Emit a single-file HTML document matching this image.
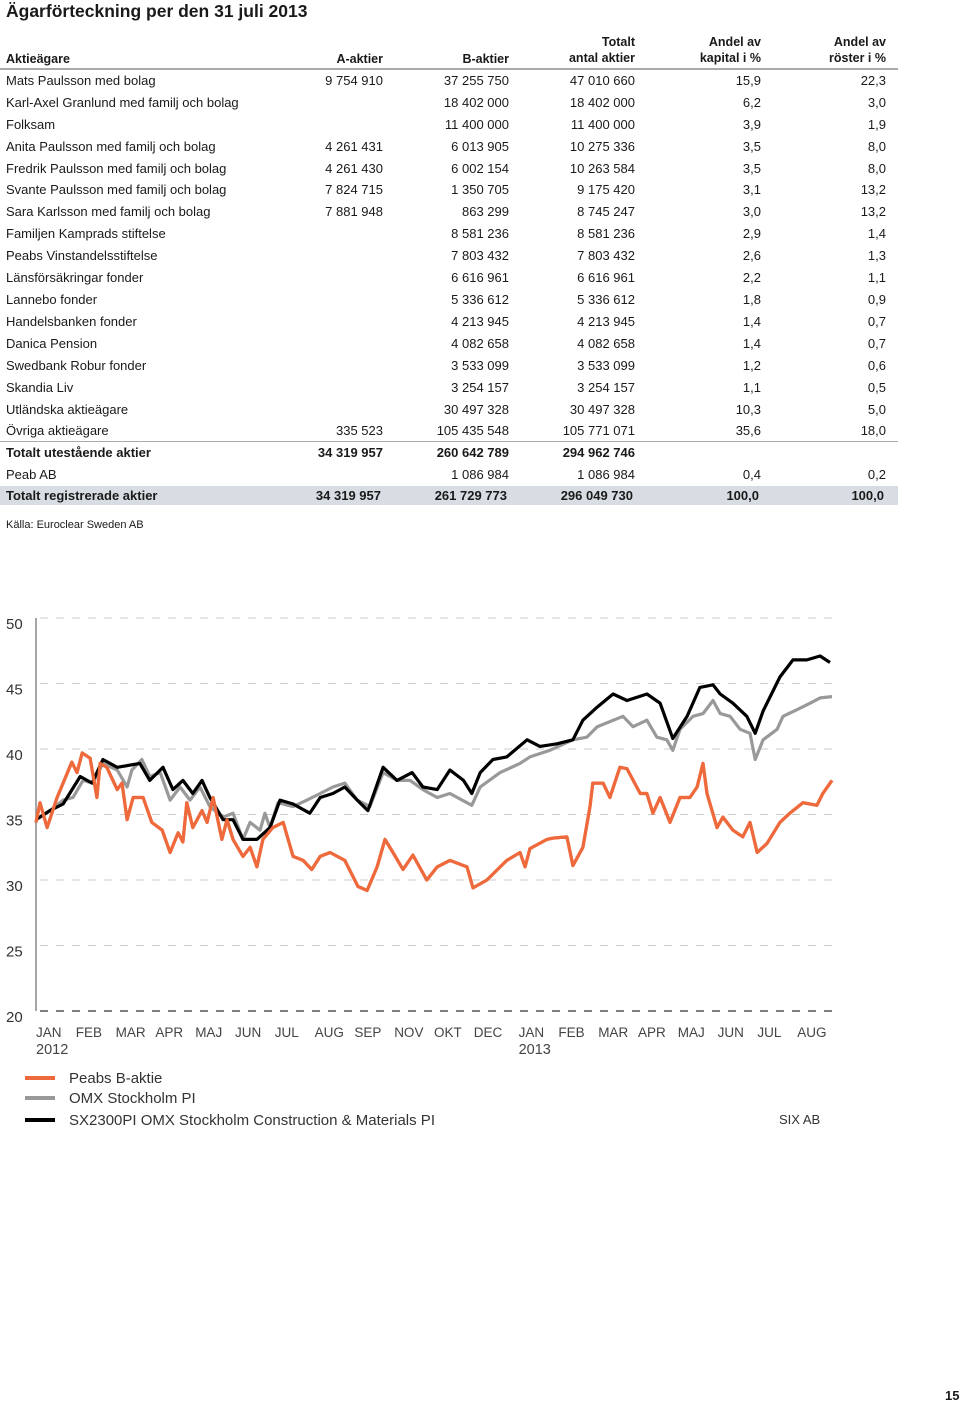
<!DOCTYPE html>
<html><head><meta charset="utf-8"><style>
body{margin:0;width:960px;height:1404px;background:#fff;font-family:"Liberation Sans",sans-serif;color:#1a1a1a;position:relative;overflow:hidden}
.a{position:absolute;white-space:nowrap}
.r{position:absolute;left:0;width:900px;height:22px;font-size:13px;line-height:22px}
.r span{position:absolute}
.c0{left:6px}.c1{right:517px}.c2{right:391px}.c3{right:265px}.c4{right:139px}.c5{right:14px}
.b{font-weight:bold}
</style></head><body>
<div class="a" style="left:6px;top:1px;font-size:17.5px;font-weight:bold">Ägarförteckning per den 31 juli 2013</div>
<div>
<div class="r b" style="top:34px;height:34px;line-height:16px;font-size:12.5px">
<span class="c0" style="top:17px">Aktieägare</span><span class="c1" style="top:17px">A-aktier</span><span class="c2" style="top:17px">B-aktier</span>
<span class="c3" style="text-align:right">Totalt<br>antal aktier</span><span class="c4" style="text-align:right">Andel av<br>kapital i %</span><span class="c5" style="text-align:right">Andel av<br>röster i %</span></div>
<div class="a" style="left:0;top:68px;width:898px;height:2px;background:#aaa"></div>
<div id="rows"></div>
<div class="a" style="left:0;top:441px;width:898px;height:1px;background:#aaa"></div>
</div>
<div class="a" style="left:6px;top:519px;font-size:11px">Källa: Euroclear Sweden AB</div>
<svg id="chart" class="a" style="left:0;top:600px" width="960" height="540"></svg>
<div class="a" style="left:779px;top:1112px;font-size:13px;color:#333">SIX AB</div>
<div class="a" style="left:945px;top:1388px;font-size:13px;font-weight:bold">15</div>
<script>
const rowData=[
["Mats Paulsson med bolag","9 754 910","37 255 750","47 010 660","15,9","22,3"],
["Karl-Axel Granlund med familj och bolag","","18 402 000","18 402 000","6,2","3,0"],
["Folksam","","11 400 000","11 400 000","3,9","1,9"],
["Anita Paulsson med familj och bolag","4 261 431","6 013 905","10 275 336","3,5","8,0"],
["Fredrik Paulsson med familj och bolag","4 261 430","6 002 154","10 263 584","3,5","8,0"],
["Svante Paulsson med familj och bolag","7 824 715","1 350 705","9 175 420","3,1","13,2"],
["Sara Karlsson med familj och bolag","7 881 948","863 299","8 745 247","3,0","13,2"],
["Familjen Kamprads stiftelse","","8 581 236","8 581 236","2,9","1,4"],
["Peabs Vinstandelsstiftelse","","7 803 432","7 803 432","2,6","1,3"],
["Länsförsäkringar fonder","","6 616 961","6 616 961","2,2","1,1"],
["Lannebo fonder","","5 336 612","5 336 612","1,8","0,9"],
["Handelsbanken fonder","","4 213 945","4 213 945","1,4","0,7"],
["Danica Pension","","4 082 658","4 082 658","1,4","0,7"],
["Swedbank Robur fonder","","3 533 099","3 533 099","1,2","0,6"],
["Skandia Liv","","3 254 157","3 254 157","1,1","0,5"],
["Utländska aktieägare","","30 497 328","30 497 328","10,3","5,0"],
["Övriga aktieägare","335 523","105 435 548","105 771 071","35,6","18,0"],
["Totalt utestående aktier","34 319 957","260 642 789","294 962 746","",""],
["Peab AB","","1 086 984","1 086 984","0,4","0,2"],
["Totalt registrerade aktier","34 319 957","261 729 773","296 049 730","100,0","100,0"]];
const rc=document.getElementById('rows');
const tops=[70,92,114,136,158,179,201,223,245,267,289,311,333,355,377,399,420,442,464,486];
rowData.forEach((r,i)=>{const d=document.createElement('div');d.className='r'+(i==17||i==19?' b':'');


d.style.top=tops[i]+'px';if(i==19){d.style.background='#d8dde3';d.style.width='898px';d.style.height='19px';d.style.lineHeight='19px';}
r.forEach((t,j)=>{const s=document.createElement('span');s.className='c'+j;s.textContent=t;d.appendChild(s);});rc.appendChild(d);});

const monthLabels=["JAN","FEB","MAR","APR","MAJ","JUN","JUL","AUG","SEP","NOV","OKT","DEC","JAN","FEB","MAR","APR","MAJ","JUN","JUL","AUG"];
const yTicks=[20,25,30,35,40,45,50];
const peabT=[0,0.1,0.28,0.53,0.68,0.9,1.03,1.16,1.36,1.53,1.61,1.78,2.04,2.16,2.29,2.44,2.69,2.91,3.17,3.37,3.57,3.69,3.79,3.94,4.17,4.3,4.45,4.67,4.8,4.95,5.2,5.38,5.55,5.7,5.95,6.21,6.46,6.71,6.93,7.14,7.39,7.76,8.09,8.32,8.57,8.77,8.97,9.22,9.47,9.82,10.08,10.4,10.83,10.98,11.33,11.83,12.16,12.29,12.41,12.84,12.99,13.34,13.49,13.74,13.92,13.99,14.25,14.42,14.67,14.85,15.18,15.35,15.5,15.68,15.93,16.18,16.43,16.61,16.76,16.86,17.11,17.26,17.51,17.76,17.94,18.12,18.37,18.69,18.94,19.27,19.62,19.77,20];
const peabV=[34.4,35.9,34.0,36.3,37.4,39.0,38.2,39.7,39.3,36.3,38.9,38.6,36.9,37.4,34.6,36.3,36.3,34.4,33.8,32.1,33.6,32.9,35.9,34.0,35.3,34.4,36.3,33.1,34.6,33.1,31.8,32.5,31.0,33.1,34.0,34.4,31.8,31.5,30.8,31.8,32.1,31.5,29.5,29.2,31.0,33.1,32.1,30.8,31.9,30.0,31.0,31.5,31.0,29.4,30.0,31.5,32.1,31.0,32.4,33.1,33.2,33.3,31.1,32.5,35.6,37.4,37.4,36.3,38.6,38.5,36.6,36.6,35.1,36.3,34.4,36.3,36.3,37.1,38.9,36.6,34.0,34.8,33.8,33.3,34.4,32.1,32.8,34.4,35.1,35.9,35.7,36.6,37.6];
const omxT=[0,0.35,0.68,0.93,1.18,1.43,1.68,2.04,2.29,2.41,2.66,2.86,3.12,3.37,3.62,3.87,4.12,4.37,4.7,4.95,5.2,5.38,5.63,5.75,5.88,6.08,6.46,6.81,7.14,7.46,7.76,8.07,8.39,8.72,9.07,9.4,9.72,10.08,10.4,10.95,11.16,11.66,12.16,12.41,12.91,13.49,13.84,14.1,14.35,14.75,15.0,15.35,15.6,15.85,16.0,16.18,16.51,16.76,17.01,17.19,17.44,17.69,17.94,18.07,18.27,18.62,18.77,19.12,19.45,19.7,20];
const omxV=[34.6,35.3,36.1,36.3,37.6,37.4,38.9,38.4,37.1,38.4,39.2,37.9,38.2,36.1,37.1,36.1,37.1,35.6,34.8,35.1,33.1,34.4,33.8,35.1,34.0,35.9,35.6,36.1,36.6,37.1,37.4,36.1,35.6,38.2,37.6,37.6,36.9,36.3,36.6,35.7,37.1,38.2,38.9,39.4,39.9,40.7,40.9,41.7,42.0,42.5,41.7,42.2,40.9,40.7,39.9,41.5,42.5,42.7,43.7,42.7,42.5,41.5,41.2,39.2,40.7,41.5,42.5,43.0,43.5,43.9,44.0];
const sxT=[0,0.35,0.68,1.11,1.41,1.68,2.04,2.61,2.86,3.19,3.44,3.69,3.94,4.17,4.37,4.7,4.95,5.2,5.55,5.88,6.13,6.46,6.88,7.14,7.46,7.76,8.07,8.34,8.72,9.07,9.45,9.72,10.08,10.4,10.74,10.95,11.16,11.48,11.83,12.34,12.66,13.09,13.49,13.74,14.1,14.5,14.85,15.35,15.68,16.0,16.36,16.68,17.01,17.19,17.51,17.86,18.07,18.27,18.69,19.02,19.37,19.7,19.95];
const sxV=[34.6,35.3,35.8,37.9,37.4,39.2,38.6,38.9,37.6,38.6,36.9,37.6,36.6,37.6,36.3,34.6,34.6,33.1,33.1,34.0,36.1,35.8,35.1,36.3,36.6,37.1,36.1,35.3,38.6,37.6,38.2,37.1,36.9,38.4,37.6,36.6,38.2,39.2,39.4,40.7,40.2,40.4,40.7,42.2,43.2,44.2,43.7,44.2,43.5,40.8,42.5,44.7,44.9,44.2,43.5,42.5,41.2,42.9,45.5,46.8,46.8,47.1,46.6];
const legendLabels=["Peabs B-aktie","OMX Stockholm PI","SX2300PI OMX Stockholm Construction & Materials PI"];

const svg=document.getElementById('chart');const NS='http://www.w3.org/2000/svg';
const X=t=>36+t*39.8, Y=v=>149-(v-40)*13.1;
function el(tag,attrs,name){const e=document.createElementNS(NS,tag);for(const k in attrs)e.setAttribute(k,attrs[k]);


svg.appendChild(e);return e;}
yTicks.forEach(v=>{
 el('line',{x1:40,x2:832,y1:Y(v),y2:Y(v),stroke:v==20?'#555':'#ccc','stroke-width':v==20?1.5:1,'stroke-dasharray':'8 8'},'gridline');
 const t=el('text',{x:6,y:Y(v)+11,'font-size':15,fill:'#333'},'y-tick-label');t.textContent=v;});
el('line',{x1:36,x2:36,y1:Y(50),y2:Y(20),stroke:'#888','stroke-width':1.5},'y-axis');
monthLabels.forEach((m,i)=>{const t=el('text',{x:(X(i)+(i>=12?5:0)).toFixed(1),y:437,'font-size':13.5,fill:'#444'},'x-tick-label');t.textContent=m;});
[[0,'2012'],[12,'2013']].forEach(([i,y])=>{const t=el('text',{x:X(i)+(i>=12?5:0),y:454,'font-size':14.5,fill:'#444'},'x-year-label');t.textContent=y;});
function line(T,V,c,name){el('path',{d:T.map((t,i)=>(i?'L':'M')+X(t).toFixed(1)+','+Y(V[i]).toFixed(1)).join(''),fill:'none',stroke:c,'stroke-width':3.2,'stroke-linejoin':'round'},name);}
line(peabT,peabV,'#ee6a3c','series-peab');
line(omxT,omxV,'#999','series-omx');
line(sxT,sxV,'#000','series-sx2300');
line(peabT,peabV,'#ee6a3c','series-peab-top');
const lc=['#ee6a3c','#999','#000'],ly=[478,498,520];
legendLabels.forEach((l,i)=>{el('line',{x1:25,x2:55,y1:ly[i],y2:ly[i],stroke:lc[i],'stroke-width':4},'legend-swatch');
 const t=el('text',{x:69,y:ly[i]+5,'font-size':15,fill:'#333'},'legend-entry');t.textContent=l;});
</script>
</body></html>
